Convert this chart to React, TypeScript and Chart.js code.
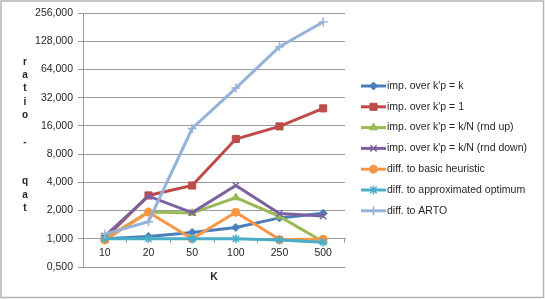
import React, { useEffect, useRef } from "react";
import { Chart, registerables } from "chart.js";
import { drawPoint } from "chart.js/helpers";

Chart.register(...registerables);

const categories = ["10", "20", "50", "100", "250", "500"];
const impK = [1.0, 1.06, 1.17, 1.32, 1.67, 1.87];
const imp1 = [1.0, 2.9, 3.7, 11.6, 15.8, 24.6];
const impUp = [1.0, 1.93, 1.88, 2.75, 1.73, 0.93];
const impDown = [1.07, 2.85, 1.9, 3.7, 1.86, 1.75];
const basic = [0.97, 1.92, 1.0, 1.92, 0.98, 0.99];
const approx = [1.0, 1.0, 1.0, 1.0, 0.97, 0.92];
const arto = [1.12, 1.52, 15.0, 40.5, 112, 205];

const seriesLabels = [
  "imp. over k'p = k",
  "imp. over k'p = 1",
  "imp. over k'p = k/N (rnd up)",
  "imp. over k'p = k/N (rnd down)",
  "diff. to basic heuristic",
  "diff. to approximated optimum",
  "diff. to ARTO",
];
const seriesColors = ["#4A7EBB", "#BE4B48", "#98B954", "#7D60A0", "#F79646", "#4BACC6", "#95B3D7"];
const seriesStyles = ["rectRot", "rect", "triangle", "crossRot", "circle", "star", "cross"];
const seriesRadius = [4, 5, 4.5, 4.5, 4, 4.5, 4.5];
const yTicks = [0.5, 1, 2, 4, 8, 16, 32, 64, 128, 256];
const yTitle = "ratio -  qat";
const xTitle = "K";

const FONT = '"Liberation Sans", Arial, sans-serif';
const TEXT = "#262626";
const GRID = "#9a9a9a";

const decorPlugin = {
  id: "decor",
  afterDraw(chart: any) {
    const ctx = chart.ctx as CanvasRenderingContext2D;
    const area = chart.chartArea;
    ctx.save();
    // outer border
    ctx.strokeStyle = "#b4b4b4";
    ctx.lineWidth = 1.5;
    ctx.strokeRect(1, 1, chart.width - 2.5, chart.height - 2.5);
    // y title (stacked letters)
    ctx.fillStyle = TEXT;
    ctx.font = `bold 10px ${FONT}`;
    ctx.textAlign = "center";
    ctx.textBaseline = "middle";
    const chars = yTitle.split("");
    chars.forEach((c, k) => {
      if (c.trim()) ctx.fillText(c, 25, 62 + k * 13.3);
    });
    // x title
    ctx.font = `bold 10.5px ${FONT}`;
    ctx.fillText(xTitle, (area.left + area.right) / 2, 277);
    // legend
    const lx = area.right + 16;
    chart.data.datasets.forEach((ds: any, i: number) => {
      const y = 86 + i * 20.8;
      ctx.strokeStyle = ds.borderColor;
      ctx.lineWidth = 3;
      ctx.beginPath();
      ctx.moveTo(lx, y);
      ctx.lineTo(lx + 25, y);
      ctx.stroke();
      ctx.fillStyle = ds.pointBackgroundColor;
      ctx.strokeStyle = ds.pointBorderColor;
      ctx.lineWidth = ds.pointBorderWidth;
      drawPoint(ctx, { pointStyle: ds.pointStyle, radius: ds.pointRadius, borderWidth: ds.pointBorderWidth, rotation: 0 } as any, lx + 12.5, y);
      ctx.fillStyle = TEXT;
      ctx.font = `10.5px ${FONT}`;
      ctx.textAlign = "left";
      ctx.textBaseline = "middle";
      ctx.fillText(ds.label, lx + 26, y);
    });
    ctx.restore();
  },
};

export default function App() {
  const ref = useRef<HTMLCanvasElement>(null);
  useEffect(() => {
    if (!ref.current) return;
    const values = [impK, imp1, impUp, impDown, basic, approx, arto];
    const datasets = values.map((data, i) => {
      const isLine = ["crossRot", "star", "cross"].includes(seriesStyles[i]);
      return {
        label: seriesLabels[i],
        data,
        borderColor: seriesColors[i],
        backgroundColor: seriesColors[i],
        pointBackgroundColor: seriesColors[i],
        pointBorderColor: seriesColors[i],
        pointBorderWidth: isLine ? 1.5 : 1,
        borderWidth: 3,
        pointStyle: seriesStyles[i],
        pointRadius: seriesRadius[i],
        tension: 0,
        order: values.length - i,
      };
    });
    const chart = new Chart(ref.current, {
      type: "line",
      data: { labels: categories, datasets },
      options: {
        animation: false,
        responsive: false,
        devicePixelRatio: 1,
        layout: { padding: { left: 0, top: 13, right: 200, bottom: 32 } },
        plugins: { legend: { display: false }, tooltip: { enabled: false }, title: { display: false } },
        scales: {
          x: {
            type: "category",
            position: { y: 1 } as any,
            offset: true,
            grid: { display: true, drawOnChartArea: false, drawTicks: true, tickLength: 4, color: GRID, offset: true },
            border: { display: true, color: GRID, width: 1 },
            ticks: { color: TEXT, font: { family: FONT, size: 10.5 }, padding: 4, maxRotation: 0 },
          },
          y: {
            type: "logarithmic",
            min: 0.5,
            max: 256,
            afterBuildTicks: (scale: any) => {
              scale.ticks = yTicks.map((v) => ({ value: v }));
            },
            afterFit: (scale: any) => {
              scale.width = 83;
            },
            grid: { color: GRID, tickLength: 5, drawTicks: true },
            border: { display: true, color: GRID },
            ticks: {
              color: TEXT,
              font: { family: FONT, size: 10.5 },
              padding: 5,
              autoSkip: false,
              callback: (v: any) => Number(v).toFixed(3).replace(".", ","),
            },
          },
        },
      },
      plugins: [decorPlugin],
    } as any);
    return () => chart.destroy();
  }, []);
  return (
    <div style={{ position: "fixed", left: 0, top: 0, width: 545, height: 299, background: "#fff" }}>
      <canvas ref={ref} width={545} height={299} />
    </div>
  );
}
